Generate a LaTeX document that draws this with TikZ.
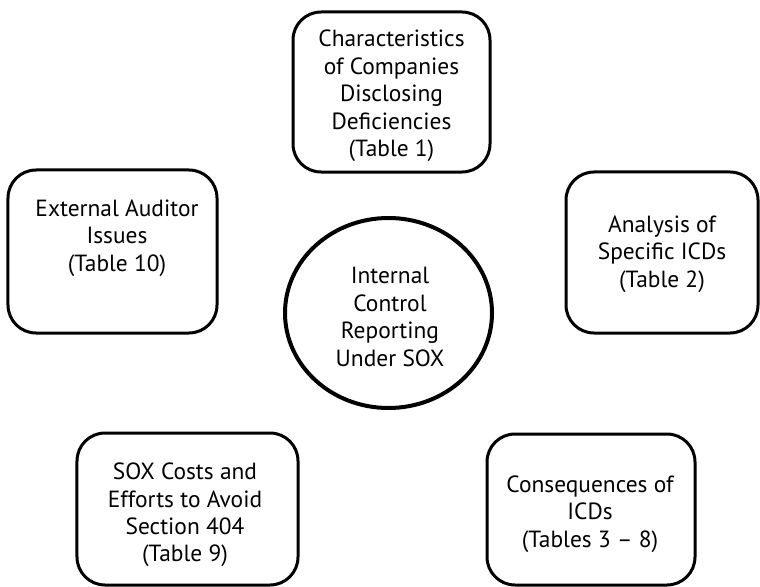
\documentclass[tikz,border=0pt]{standalone}
\usepackage{fontspec}
\newfontfamily\boxfont{PT Sans}[Ligatures=TeX]
\usetikzlibrary{shapes.geometric}
\begin{document}
\begin{tikzpicture}[x=1bp,y=-1bp,
  boxshape/.style={draw=black, line width=3bp, rounded corners=28bp, inner sep=0pt},
  txt/.style={align=center, font=\boxfont\fontsize{23.5}{27.5}\selectfont, inner sep=0pt},
  hub/.style={draw=black, line width=4bp, ellipse, inner sep=0pt}]
\useasboundingbox (0,0) rectangle (760,587);
\node[boxshape, minimum width=197bp, minimum height=160bp] (top) at (391.5,92) {};
\node[boxshape, minimum width=209bp, minimum height=163bp] (left) at (112.5,251.5) {};
\node[boxshape, minimum width=192bp, minimum height=161bp] (right) at (662,252.5) {};
\node[boxshape, minimum width=221bp, minimum height=152bp] (bl) at (187.5,509) {};
\node[boxshape, minimum width=208bp, minimum height=151bp] (br) at (591,509.5) {};
\node[hub, minimum width=207bp, minimum height=190bp] (hub) at (388.5,313) {};
\node[txt] (toptxt) at (391.5,96) {Characteristics\\of Companies\\Disclosing\\Deficiencies\\(Table 1)};
\node[txt] (lefttxt) at (117,238) {External Auditor\\Issues\\(Table 10)};
\node[txt] (righttxt) at (662,254) {Analysis of\\Specific ICDs\\(Table 2)};
\node[txt] (bltxt) at (185,515) {SOX Costs and\\Efforts to Avoid\\Section 404\\(Table 9)};
\node[txt] (brtxt) at (590,514) {Consequences of\\ICDs\\(Tables 3 – 8)};
\node[txt] (hubtxt) at (390,317) {Internal\\Control\\Reporting\\Under SOX};
\end{tikzpicture}
\end{document}
